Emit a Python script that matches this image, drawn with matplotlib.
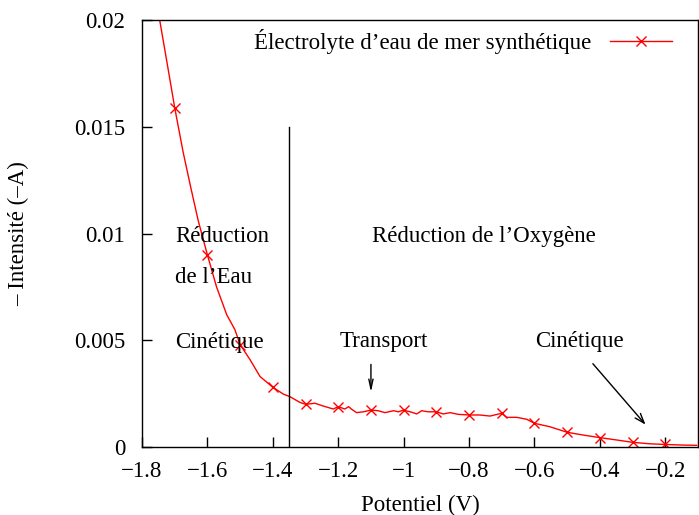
import matplotlib
matplotlib.use("Agg")
import matplotlib.pyplot as plt
import numpy as np

plt.rcParams['font.family'] = ['Liberation Serif', 'DejaVu Serif']

# potentiel (V) et intensité (-A)
potentiel = [-1.747, -1.72, -1.7, -1.674, -1.65, -1.628, -1.6, -1.572, -1.541, -1.516,
             -1.5, -1.47, -1.439, -1.4, -1.368, -1.348, -1.317, -1.3, -1.271,
             -1.246, -1.215, -1.2, -1.18, -1.168, -1.16, -1.144, -1.123, -1.1,
             -1.078, -1.057, -1.031, -1.016, -1.0, -0.976, -0.96, -0.945, -0.925,
             -0.9, -0.879, -0.858, -0.833, -0.8, -0.767, -0.736, -0.7, -0.685,
             -0.654, -0.624, -0.6, -0.553, -0.5, -0.451, -0.4, -0.349, -0.3,
             -0.247, -0.2, -0.145, -0.104]
intensite = [0.0201, 0.0177, 0.0159, 0.0138, 0.0121, 0.0106, 0.0090, 0.0075, 0.0062, 0.0055,
             0.0048, 0.0041, 0.0033, 0.0028, 0.00248, 0.00236, 0.00209, 0.00200, 0.00205,
             0.00192, 0.00178, 0.00189, 0.00178, 0.00189, 0.00178, 0.00161, 0.00165, 0.00173,
             0.00170, 0.00161, 0.00170, 0.00165, 0.00173, 0.00163, 0.00155, 0.00170, 0.00165,
             0.00165, 0.00155, 0.00161, 0.00153, 0.00150, 0.00150, 0.00145, 0.00158, 0.00139,
             0.00139, 0.00130, 0.00111, 0.00095, 0.00069, 0.00056, 0.00044, 0.00033, 0.00022,
             0.00015, 0.00012, 0.00009, 0.00008]

xticks = [-1.8, -1.6, -1.4, -1.2, -1.0, -0.8, -0.6, -0.4, -0.2]
xticklabels = ['\u22121.8', '\u22121.6', '\u22121.4', '\u22121.2', '\u22121',
               '\u22120.8', '\u22120.6', '\u22120.4', '\u22120.2']
yticks = [0, 0.005, 0.01, 0.015, 0.02]
yticklabels = ['0', '0.005', '0.01', '0.015', '0.02']

# points marqués tous les 0.1 V
pts = [i for i, v in enumerate(potentiel) if abs(v * 10 - round(v * 10)) < 1e-6]

fig = plt.figure(figsize=(6.99, 5.15), dpi=100)
ax = fig.add_axes([0.2031, 0.132, 0.7955, 0.8292])

ax.plot(potentiel, intensite, color='red', lw=1.0, marker='x', markersize=7,
        markeredgewidth=1.0, markevery=pts,
        label='\u00c9lectrolyte d\u2019eau de mer synth\u00e9tique')

ax.plot([-1.35, -1.35], [0, 0.015], color='black', lw=1.0)

fs = 16.5
ax.text(-1.699, 0.00962, 'R\u00e9duction', fontsize=fs)
ax.text(-1.699, 0.00767, 'de l\u2019Eau', fontsize=fs)
ax.text(-1.699, 0.00462, 'Cin\u00e9tique', fontsize=fs)
ax.text(-1.097, 0.00962, 'R\u00e9duction de l\u2019Oxyg\u00e8ne', fontsize=fs)
ax.text(-1.195, 0.00467, 'Transport', fontsize=fs)
ax.text(-0.598, 0.0047, 'Cin\u00e9tique', fontsize=fs)

ax.annotate('', xy=(-1.1, 0.00244), xytext=(-1.1, 0.004),
            arrowprops=dict(arrowstyle='->,head_length=0.7,head_width=0.15', color='black', lw=1.0))
ax.annotate('', xy=(-0.255, 0.00095), xytext=(-0.427, 0.004),
            arrowprops=dict(arrowstyle='->,head_length=0.7,head_width=0.25', color='black', lw=1.0))

ax.set_xlim(-1.8, -0.1)
ax.set_ylim(0, 0.02)
ax.set_xticks(xticks)
ax.set_xticklabels(xticklabels)
ax.set_yticks(yticks)
ax.set_yticklabels(yticklabels)
ax.tick_params(direction='in', length=7, width=1, labelsize=fs, pad=10)
ax.tick_params(axis='y', pad=12)
for s in ax.spines.values():
    s.set_linewidth(1.0)

ax.set_xlabel('Potentiel (V)', fontsize=fs, labelpad=9)
ax.set_ylabel('\u2013 Intensit\u00e9 (\u2013A)', fontsize=fs, labelpad=32)

ax.legend(loc='upper right', bbox_to_anchor=(0.953, 0.978), frameon=False,
          markerfirst=False, fontsize=fs, handlelength=2.7, borderaxespad=0,
          borderpad=0, numpoints=1)

fig.savefig('out.png', dpi=100)
